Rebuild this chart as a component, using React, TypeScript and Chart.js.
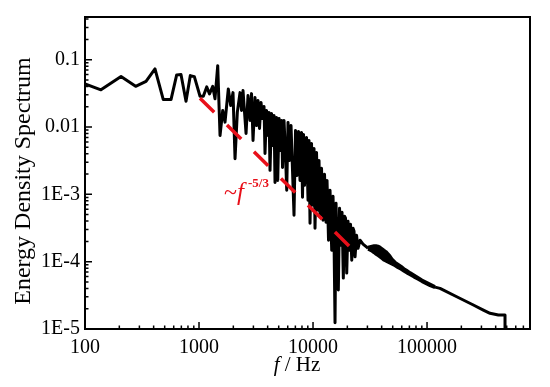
import React, { useEffect, useRef } from "react";
import { Chart, registerables } from "chart.js";

Chart.register(...registerables);

// ---- data (f in Hz, energy density spectrum) ----
// noisy part of the spectrum, 100 Hz – 30 kHz
const lowFrequency = [
  100, 138, 207, 278, 343, 411, 486, 568, 637, 695, 769, 839, 910, 1021,
  1091, 1168, 1236, 1319, 1381, 1459, 1529, 1614, 1691, 1807, 1897, 1987,
  2070, 2168, 2289, 2360, 2432, 2585, 2690, 2803, 2888, 2977,
  3099, 3195, 3293, 3394, 3499, 3606, 3717, 3792, 3908, 4030, 4112, 4196,
  4325, 4458, 4550, 4642, 4785, 4903, 5032, 5187, 5314, 5401, 5567, 5739,
  5880, 6035, 6220, 6412, 6609, 6812, 7022, 7237, 7460, 7690, 7926, 8088,
  8254, 8421, 8770, 9040, 9223, 9412, 9701, 10000, 10204, 10411, 10732, 11062,
  11288, 11518, 11871, 12240, 12615, 13002, 13268, 13677, 14098, 14588, 14979, 15283,
  15596, 15915, 16240, 16670, 17080, 17600, 17967, 18440, 18900, 19280, 19750, 20283,
  20907, 21330, 21860, 22440, 22897, 23360, 24080, 24810, 25848, 27450, 29580, 30380,
];
const lowSpectrum = [
  0.0437, 0.0356, 0.056, 0.0402, 0.0477, 0.0728, 0.0255, 0.0255, 0.0593, 0.06, 0.0241, 0.058, 0.056, 0.0286,
  0.0286, 0.0394, 0.031, 0.0402, 0.0262, 0.0815, 0.00748, 0.0176, 0.0118, 0.0368, 0.0208, 0.0324,
  0.00338, 0.0166, 0.0324, 0.0176, 0.0347, 0.00801, 0.0293, 0.0125, 0.0313, 0.00631,
  0.0274, 0.0105, 0.0247, 0.0095, 0.0231, 0.0134, 0.0201, 0.00405, 0.0176, 0.00748, 0.0164, 0.00227,
  0.0158, 0.00532, 0.0148, 0.0015, 0.0138, 0.00161, 0.0134, 0.00449, 0.0125, 0.00251, 0.0125, 0.00379,
  0.00115, 0.0117, 0.00319, 0.0105, 0.00227, 0.000489, 0.00887, 0.00191, 0.00858, 0.00161, 0.00829, 0.000903,
  0.00774, 0.00136, 0.00699, 0.000815, 0.00631, 0.000372, 0.0057, 0.000687, 0.0048, 0.000314, 0.00419, 0.000579,
  0.00319, 0.000489, 0.00243, 0.000412, 0.00198, 0.000385, 0.00161, 0.000208, 0.00115, 0.000148, 0.000934, 0.000208,
  0.0000124, 0.000736, 0.000176, 0.0000379, 0.00062, 0.000176, 0.000541, 0.000057, 0.000472, 0.000441, 0.0000676, 0.000398,
  0.000148, 0.000359, 0.000105, 0.000314, 0.000283, 0.000118, 0.000247, 0.000158, 0.000208, 0.000182, 0.000164, 0.000158,
];

// oscillating band, 30 kHz – 120 kHz (upper / lower envelope)
const bandFrequency = [
  30380, 31620, 32930, 34280, 35690, 37170, 38700, 40300, 41960, 43690, 45500, 47360, 49320,
  52400, 55670, 59140, 62830, 66760, 70930, 76910, 83400, 90400, 98000, 106200, 117500,
];
const bandUpper = [
  0.000164, 0.000167, 0.00017, 0.000173, 0.000173, 0.00017, 0.000164, 0.000156, 0.000148, 0.000141, 0.000131, 0.000121, 0.000109,
  0.0000983, 0.0000918, 0.0000858, 0.0000787, 0.0000736, 0.0000687, 0.0000631, 0.0000579, 0.0000532, 0.0000497, 0.0000464, 0.0000426,
];
const bandLower = [
  0.000153, 0.000148, 0.000143, 0.000136, 0.000129, 0.000123, 0.000117, 0.000111, 0.000105, 0.000102, 0.0000983, 0.000095, 0.0000918,
  0.0000872, 0.0000815, 0.0000774, 0.0000723, 0.0000676, 0.0000642, 0.000059, 0.000055, 0.0000506, 0.0000472, 0.0000441, 0.0000412,
];

// smooth tail, 117 kHz – 483 kHz
const tailFrequency = [117500, 130000, 182200, 254800, 311900, 357000, 422000, 483000, 483000];
const tailSpectrum = [0.0000419, 0.0000401, 0.0000301, 0.0000227, 0.0000191, 0.0000171, 0.0000161, 0.0000161, 0.00001];

// reference slope  ~ f^(-5/3)
const slopeFrequency = [1020, 20700];
const slopeSpectrum = [0.0267, 0.000171];

const xTickValues = [100, 1000, 10000, 100000];
const xTickLabels = ["100", "1000", "10000", "100000"];
const yTickValues = [1e-5, 1e-4, 1e-3, 0.01, 0.1];
const yTickLabels = ["1E-5", "1E-4", "1E-3", "0.01", "0.1"];
const xRange = [100, 800000];
const yRange = [1e-5, 0.43];

const annotationAt = { f: 1660, e: 8.2e-4 };

const SERIF = '"Liberation Serif", "Times New Roman", serif';
const RED = "#e8101a";

const framePlugin = {
  id: "frameAndText",
  afterDraw(chart: any) {
    const { ctx, chartArea: a, scales } = chart;
    const xs = scales.x;
    const ys = scales.y;
    ctx.save();
    ctx.strokeStyle = "#000";
    ctx.lineWidth = 2;
    ctx.strokeRect(a.left, a.top, a.right - a.left, a.bottom - a.top);

    ctx.lineWidth = 1.5;
    ctx.beginPath();
    for (let d = 2; d <= 5; d++) {
      for (let m = 1; m <= 9; m++) {
        const v = m * Math.pow(10, d);
        if (v < xRange[0] || v > xRange[1]) continue;
        const px = xs.getPixelForValue(v);
        const len = m === 1 ? 7 : 3.5;
        ctx.moveTo(px, a.bottom);
        ctx.lineTo(px, a.bottom - len);
      }
    }
    for (let d = -5; d <= -1; d++) {
      for (let m = 1; m <= 9; m++) {
        const v = m * Math.pow(10, d);
        if (v < yRange[0] * 0.999 || v > yRange[1]) continue;
        const py = ys.getPixelForValue(v);
        const len = m === 1 ? 7 : 3.5;
        ctx.moveTo(a.left, py);
        ctx.lineTo(a.left + len, py);
      }
    }
    ctx.stroke();

    // y title
    ctx.fillStyle = "#000";
    ctx.save();
    ctx.translate(24, 181);
    ctx.rotate(-Math.PI / 2);
    ctx.font = `24px ${SERIF}`;
    ctx.textAlign = "center";
    ctx.textBaseline = "middle";
    ctx.fillText("Energy Density Spectrum", 0, 0);
    ctx.restore();

    // x title: italic f / Hz
    const baseY = 371;
    const italic = `italic 21px ${SERIF}`;
    const normal = `21px ${SERIF}`;
    ctx.font = italic;
    const wf = ctx.measureText("f").width;
    ctx.font = normal;
    const wr = ctx.measureText(" / Hz").width;
    const cx = a.left + 212;
    const x0 = cx - (wf + wr) / 2;
    ctx.textAlign = "left";
    ctx.textBaseline = "alphabetic";
    ctx.font = italic;
    ctx.fillText("f", x0, baseY);
    ctx.font = normal;
    ctx.fillText(" / Hz", x0 + wf, baseY);

    // annotation ~f^-5/3
    const ax = xs.getPixelForValue(annotationAt.f);
    const ay = ys.getPixelForValue(annotationAt.e);
    ctx.fillStyle = RED;
    ctx.font = `24px ${SERIF}`;
    ctx.fillText("~", ax, ay);
    const wt = ctx.measureText("~").width;
    ctx.font = `italic 25px ${SERIF}`;
    ctx.fillText("f", ax + wt, ay);
    const wf2 = ctx.measureText("f").width;
    ctx.font = `bold 13px ${SERIF}`;
    ctx.fillText("-5/3", ax + wt + wf2 + 4, ay - 13);
    ctx.restore();
  },
};

const toPoints = (xs: number[], ys: number[]) => xs.map((x, i) => ({ x, y: ys[i] }));

export default function App() {
  const ref = useRef<HTMLCanvasElement>(null);

  useEffect(() => {
    const black = {
      borderColor: "#000",
      borderWidth: 3,
      borderJoinStyle: "round",
      pointRadius: 0,
      tension: 0,
    };
    const chart = new Chart(ref.current as HTMLCanvasElement, {
      type: "line",
      data: {
        datasets: [
          {
            data: toPoints(slopeFrequency, slopeSpectrum),
            borderColor: RED,
            borderWidth: 3.5,
            borderDash: [20, 18],
            pointRadius: 0,
            tension: 0,
            order: 0,
          },
          { ...black, data: toPoints(lowFrequency, lowSpectrum), order: 1 },
          {
            ...black,
            data: toPoints(bandFrequency, bandUpper),
            fill: "+1",
            backgroundColor: "#000",
            order: 1,
          },
          { ...black, data: toPoints(bandFrequency, bandLower), order: 1 },
          { ...black, data: toPoints(tailFrequency, tailSpectrum), order: 1 },
        ],
      },
      options: {
        responsive: false,
        devicePixelRatio: 1,
        animation: false,
        parsing: false,
        layout: { padding: { top: 16, right: 20, bottom: 0, left: 0 } },
        plugins: { legend: { display: false }, tooltip: { enabled: false } },
        scales: {
          x: {
            type: "logarithmic",
            position: "bottom",
            min: xRange[0],
            max: xRange[1],
            afterBuildTicks: (s: any) => {
              s.ticks = xTickValues.map((v) => ({ value: v }));
            },
            afterFit: (s: any) => {
              s.height = 58;
            },
            grid: { display: false, drawTicks: false, tickLength: 0 },
            border: { display: false },
            ticks: {
              autoSkip: false,
              maxRotation: 0,
              padding: 7,
              color: "#000",
              font: { family: SERIF, size: 20 },
              callback: (v: any) => {
                const i = xTickValues.indexOf(Number(v));
                return i >= 0 ? xTickLabels[i] : "";
              },
            },
          },
          y: {
            type: "logarithmic",
            position: "left",
            min: yRange[0],
            max: yRange[1],
            afterBuildTicks: (s: any) => {
              s.ticks = yTickValues.map((v) => ({ value: v }));
            },
            afterFit: (s: any) => {
              s.width = 85;
            },
            grid: { display: false, drawTicks: false, tickLength: 0 },
            border: { display: false },
            ticks: {
              autoSkip: false,
              padding: 5,
              color: "#000",
              font: { family: SERIF, size: 20 },
              callback: (v: any) => {
                const i = yTickValues.indexOf(Number(v));
                return i >= 0 ? yTickLabels[i] : "";
              },
            },
          },
        },
      } as any,
      plugins: [framePlugin],
    });
    return () => chart.destroy();
  }, []);

  return (
    <div style={{ position: "fixed", left: 0, top: 0, width: 550, height: 387, background: "#fff" }}>
      <canvas ref={ref} width={550} height={387} style={{ display: "block", width: 550, height: 387 }} />
    </div>
  );
}
